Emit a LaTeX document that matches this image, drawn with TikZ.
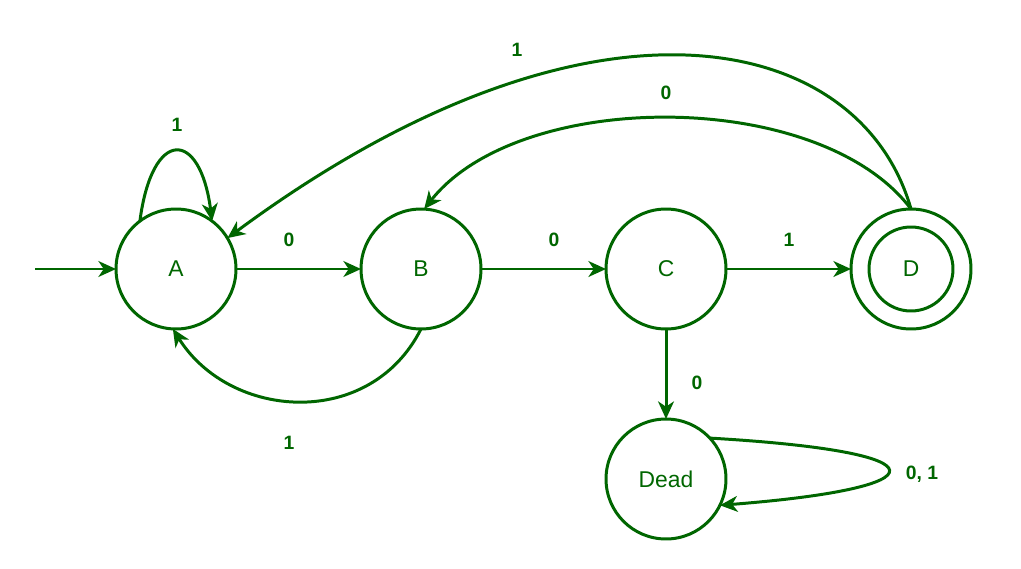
\documentclass[tikz,border=0pt]{standalone}
\usepackage{fontspec}
\setmainfont{Liberation Sans}
\usetikzlibrary{arrows.meta}

\definecolor{dfagreen}{RGB}{0,102,0}

\tikzset{
  state/.style={circle, draw=dfagreen, line width=1.7pt, minimum size=2.4cm,
    inner sep=0pt, outer sep=0pt, text=dfagreen, font=\fontsize{13}{15}\selectfont},
  edge/.style={draw=dfagreen, line width=1.7pt,
    -{Stealth[length=10pt,width=9pt,inset=3pt]}},
  lbl/.style={text=dfagreen, font=\fontsize{11}{13}\selectfont\bfseries}
}

\begin{document}
\begin{tikzpicture}[x=0.02cm, y=-0.02cm]
      \useasboundingbox (0,0) rectangle (1021,568);

      % Nodes
      \node[state] (A) at (176,269) {A};
      \node[state] (B) at (421,269) {B};
      \node[state] (C) at (666,269) {C};
      \node[state] (D) at (911,269) {};
      \node[state, minimum size=1.68cm] (Din) at (D) {D};
      \node[state] (Dead) at (666,479) {Dead};
      \coordinate (start) at (35,269);

      % Transitions
      \draw[edge] (start) -- (A);
      \draw[edge] (A.127) .. controls (152,128) and (200,128) .. (A.53);
      \draw[edge] (A) -- (B);
      \draw[edge] (B) -- (C);
      \draw[edge] (C) -- (D);
      \draw[edge] (C) -- (Dead);
      \draw[edge] (B.270) .. controls (370,430) and (230,420) .. (A.267);
      \draw[edge] (D.90) .. controls (820,88) and (520,88) .. (B.87);
      \draw[edge] (D.90) .. controls (860,30) and (590,-30) .. (A.31);
      \draw[edge] (Dead.43) .. controls (950,452) and (942,488) .. (Dead.-26);

      % Labels
      \node[lbl] (lAA) at (177,125) {1};
      \node[lbl] (lAB) at (289,240) {0};
      \node[lbl] (lBC) at (554,240) {0};
      \node[lbl] (lCD) at (789,240) {1};
      \node[lbl] (lCX) at (697,383) {0};
      \node[lbl] (lXX) at (922,474) {0, 1};
      \node[lbl] (lBA) at (289,443) {1};
      \node[lbl] (lDB) at (666,93) {0};
      \node[lbl] (lDA) at (517,50) {1};
\end{tikzpicture}
\end{document}
